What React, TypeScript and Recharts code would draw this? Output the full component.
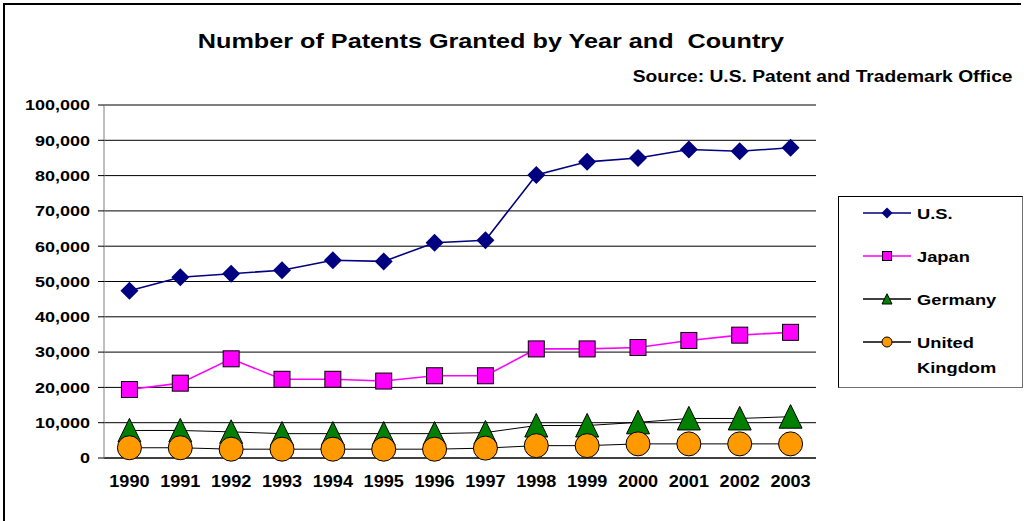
import React from 'react';
import { LineChart, Line, XAxis, YAxis, CartesianGrid, ReferenceLine } from 'recharts';

const years = ['1990', '1991', '1992', '1993', '1994', '1995', '1996', '1997', '1998', '1999', '2000', '2001', '2002', '2003'];
const usValues = [47400, 51200, 52200, 53200, 56000, 55700, 61000, 61700, 80200, 83900, 85000, 87400, 86900, 87900];
const japanValues = [19400, 21200, 28100, 22300, 22300, 21800, 23300, 23300, 30900, 30900, 31300, 33300, 34800, 35600];
const germanyValues = [7800, 7800, 7400, 6900, 6900, 6900, 6900, 7200, 9200, 9200, 10100, 11200, 11200, 11700];
const ukValues = [2900, 2900, 2500, 2500, 2500, 2500, 2500, 2800, 3500, 3500, 4000, 4000, 4000, 4000];
const yTicks = [0, 10000, 20000, 30000, 40000, 50000, 60000, 70000, 80000, 90000, 100000];
const boundaryTicks = [0, 1, 2, 3, 4, 5, 6, 7, 8, 9, 10, 11, 12, 13, 14];

const seriesKeys = ['us', 'japan', 'germany', 'uk'];
const seriesNames = ['U.S.', 'Japan', 'Germany', 'United Kingdom'];
const legendLines = [['U.S.'], ['Japan'], ['Germany'], ['United', 'Kingdom']];
const lineColors = ['#000080', '#FF00FF', '#000000', '#000000'];
const markerFills = ['#000080', '#FF00FF', '#008000', '#FF9900'];
const markerShapes = ['diamond', 'square', 'triangle', 'circle'];

const titleText = 'Number of Patents Granted by Year and\u00A0 Country';
const sourceText = 'Source: U.S. Patent and Trademark Office';

const data = years.map((year, i) => ({
  year,
  us: usValues[i],
  japan: japanValues[i],
  germany: germanyValues[i],
  uk: ukValues[i],
}));

const FONT = '"Liberation Sans", Arial, sans-serif';
const STRETCH = 1.2;

function Marker({ shape, cx, cy, size, fill }: { shape: string; cx: number; cy: number; size: number; fill: string }) {
  const s = size;
  if (shape === 'diamond') {
    return <path d={`M${cx},${cy - s}L${cx + s},${cy}L${cx},${cy + s}L${cx - s},${cy}Z`} fill={fill} />;
  }
  if (shape === 'square') {
    return <rect x={cx - s} y={cy - s} width={2 * s} height={2 * s} fill={fill} stroke="#000" strokeWidth={1} />;
  }
  if (shape === 'triangle') {
    return (
      <path
        d={`M${cx},${cy - s * 1.05}L${cx + s},${cy + s}L${cx - s},${cy + s}Z`}
        fill={fill}
        stroke="#000"
        strokeWidth={1}
      />
    );
  }
  return <circle cx={cx} cy={cy} r={s} fill={fill} stroke="#000" strokeWidth={1} />;
}

const chartMarkerSizes = [9, 8, 11.5, 12];
const legendMarkerSizes = [5.5, 4.5, 5, 5];

const makeDot = (idx: number) => (props: any) => {
  const { cx, cy, index } = props;
  if (cx == null || cy == null) return <g key={`e-${idx}-${index}`} />;
  return (
    <Marker
      key={`m-${idx}-${index}`}
      shape={markerShapes[idx]}
      cx={cx}
      cy={cy}
      size={chartMarkerSizes[idx]}
      fill={markerFills[idx]}
    />
  );
};

const emptyTick = () => <g />;

const fmt = (v: number) => Number(v).toLocaleString('en-US');

const XTick = (props: any) => {
  const { x, y, payload } = props;
  return (
    <g transform={`translate(${x},${y})`}>
      <text
        transform="scale(1.13,1)"
        textAnchor="middle"
        dy="0.71em"
        fontFamily={FONT}
        fontWeight="bold"
        fontSize={16}
        fill="#000"
      >
        {payload.value}
      </text>
    </g>
  );
};

const YTick = (props: any) => {
  const { x, y, payload } = props;
  return (
    <g transform={`translate(${x},${y})`}>
      <text
        transform={`scale(${STRETCH},1)`}
        textAnchor="end"
        dy="0.355em"
        fontFamily={FONT}
        fontWeight="bold"
        fontSize={15}
        fill="#000"
      >
        {fmt(payload.value)}
      </text>
    </g>
  );
};

export default function App() {
  return (
    <div style={{ position: 'absolute', left: 0, top: 0, width: 1024, height: 521, background: '#fff', overflow: 'hidden' }}>
      <div
        style={{
          position: 'absolute',
          left: 3,
          top: 3,
          width: 1016,
          height: 600,
          borderTop: '2px solid #000',
          borderLeft: '2px solid #000',
        }}
      />
      <div
        style={{
          position: 'absolute',
          left: 0,
          top: 28,
          width: 982,
          textAlign: 'center',
          fontFamily: FONT,
          fontWeight: 'bold',
          fontSize: 21,
          lineHeight: '26px',
          color: '#000',
          whiteSpace: 'pre',
          transform: `scaleX(${STRETCH})`,
          transformOrigin: '491px 0',
        }}
      >
        {titleText}
      </div>
      <div
        style={{
          position: 'absolute',
          right: 1024 - 1013,
          top: 67,
          fontFamily: FONT,
          fontWeight: 'bold',
          fontSize: 16,
          lineHeight: '20px',
          color: '#000',
          whiteSpace: 'pre',
          transform: `scaleX(${STRETCH})`,
          transformOrigin: '100% 0',
        }}
      >
        {sourceText}
      </div>
      <div style={{ position: 'absolute', left: 0, top: 0 }}>
        <LineChart width={1024} height={521} data={data} margin={{ top: 105, right: 208, bottom: 0, left: 0 }}>
          <CartesianGrid vertical={false} stroke="#000" strokeWidth={1} />
          <XAxis
            xAxisId="bounds"
            type="number"
            domain={[0, 14]}
            ticks={boundaryTicks}
            interval={0}
            allowDataOverflow
            height={0}
            axisLine={false}
            tick={emptyTick}
            tickLine={{ stroke: '#000' }}
            tickSize={6}
          />
          <XAxis
            dataKey="year"
            scale="band"
            interval={0}
            height={63}
            tickLine={false}
            axisLine={{ stroke: '#000' }}
            tickSize={6}
            tickMargin={12}
            tick={XTick}
          />
          <YAxis
            domain={[0, 100000]}
            ticks={yTicks}
            interval={0}
            width={104}
            tickSize={6}
            tickMargin={8}
            tick={YTick}
            axisLine={{ stroke: '#808080' }}
            tickLine={{ stroke: '#000' }}
          />
          <ReferenceLine y={100000} stroke="#808080" />
          <ReferenceLine xAxisId="bounds" x={14} stroke="#808080" />
          {seriesKeys.map((key, idx) => (
            <Line
              key={key}
              dataKey={key}
              name={seriesNames[idx]}
              type="linear"
              stroke={lineColors[idx]}
              strokeWidth={idx < 2 ? 1.6 : 1}
              dot={makeDot(idx)}
              activeDot={false}
              isAnimationActive={false}
            />
          ))}
        </LineChart>
      </div>
      <div
        style={{
          position: 'absolute',
          left: 838,
          top: 196,
          width: 183,
          height: 190,
          borderTop: '1px solid #000',
          borderLeft: '1px solid #000',
          borderRight: '1px solid #707070',
          borderBottom: '1px solid #707070',
          background: '#fff',
        }}
      >
        {seriesNames.map((name, idx) => (
          <div key={name} style={{ position: 'absolute', left: 24, top: 6 + idx * 43, height: 20 }}>
            <svg width={48} height={20} style={{ position: 'absolute', left: 0, top: 0 }}>
              <line x1={0} y1={10} x2={48} y2={10} stroke={lineColors[idx]} strokeWidth={1.5} />
              <Marker shape={markerShapes[idx]} cx={24} cy={10} size={legendMarkerSizes[idx]} fill={markerFills[idx]} />
            </svg>
            <div
              style={{
                position: 'absolute',
                left: 54,
                top: 0,
                fontFamily: FONT,
                fontWeight: 'bold',
                fontSize: 15.5,
                lineHeight: '25px',
                marginTop: -2,
                color: '#000',
                whiteSpace: 'nowrap',
                transform: 'scaleX(1.18)',
                transformOrigin: '0 0',
              }}
            >
              {legendLines[idx].map((t) => (
                <div key={t}>{t}</div>
              ))}
            </div>
          </div>
        ))}
      </div>
    </div>
  );
}
